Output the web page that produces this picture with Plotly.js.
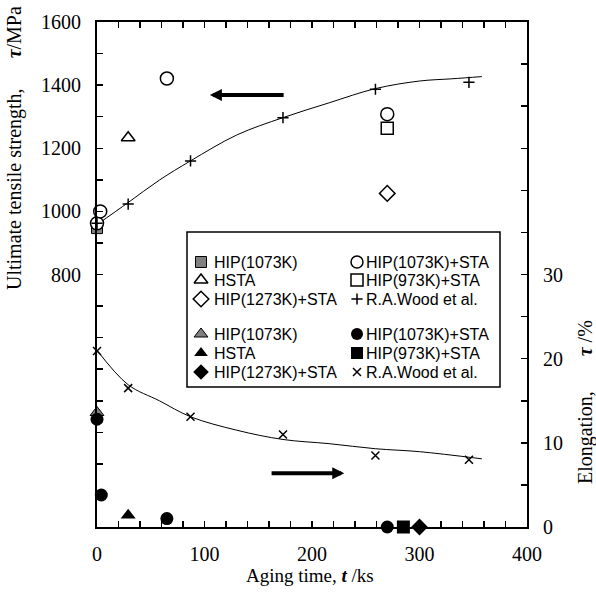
<!DOCTYPE html>
<html><head><meta charset="utf-8">
<script src="https://cdn.plot.ly/plotly-3.0.1.min.js"></script>
<style>html,body{margin:0;padding:0;background:#fff}#chart{width:596px;height:592px}</style>
</head><body><div id="chart"></div>
<script>
// ---- tick labels ----
const xTickVals = [0, 100, 200, 300, 400];
const xTickText = ['0', '100', '200', '300', '400'];
const yLeftTickVals = [800, 1000, 1200, 1400, 1600];
const yLeftTickText = ['800', '1000', '1200', '1400', '1600'];
const yRightTickVals = [0, 10, 20, 30];
const yRightTickText = ['0', '10', '20', '30'];

// ---- legend names ----
const legendNames = ['HIP(1073K)', 'HSTA', 'HIP(1273K)+STA', 'HIP(1073K)+STA', 'HIP(973K)+STA', 'R.A.Wood et al.'];

// ---- ultimate tensile strength (MPa) vs aging time (ks) ----
const sHip1073X = [0],   sHip1073Y = [947];
const sHstaX = [29],     sHstaY = [1233];
const sHip1273StaX = [270], sHip1273StaY = [1057];
const sHip1073StaX = [0, 3, 65, 270], sHip1073StaY = [962, 1000, 1421, 1308];
const sHip973StaX = [270], sHip973StaY = [1263];
const sWoodX = [0, 29, 87, 173, 259, 346], sWoodY = [962, 1023, 1160, 1297, 1387, 1409];
const sFitX = [0, 29, 58, 87, 130, 173, 216, 259, 300, 330, 358];
const sFitY = [958, 1028, 1099, 1160, 1242, 1297, 1344, 1389, 1413, 1420, 1427];

// ---- elongation (%) vs aging time (ks) ----
const eHip1073X = [0],   eHip1073Y = [13.6];
const eHstaX = [29],     eHstaY = [1.4];
const eHip1273StaX = [300], eHip1273StaY = [0];
const eHip1073StaX = [0, 4, 65, 270], eHip1073StaY = [12.8, 3.8, 1.0, 0];
const eHip973StaX = [285], eHip973StaY = [0];
const eWoodX = [0, 29, 87, 173, 259, 346], eWoodY = [20.9, 16.5, 13.1, 11.0, 8.5, 8.0];
const eFitX = [0, 29, 58, 87, 130, 173, 216, 259, 300, 358];
const eFitY = [21.0, 16.9, 15.0, 13.1, 11.5, 10.4, 9.9, 9.3, 8.95, 8.1];

const BLK = '#000', GRY = '#808080', WHT = '#fff';
const st = {
  sHip1073:    {symbol: 'square', size: 11, color: GRY, line: {color: BLK, width: 1}},
  sHsta:       {symbol: 'triangle-up', size: 12, color: WHT, line: {color: BLK, width: 1.5}},
  sHip1273Sta: {symbol: 'diamond', size: 12, color: WHT, line: {color: BLK, width: 1.5}},
  sHip1073Sta: {symbol: 'circle', size: 13, color: WHT, line: {color: BLK, width: 1.5}},
  sHip973Sta:  {symbol: 'square', size: 12, color: WHT, line: {color: BLK, width: 1.5}},
  sWood:       {symbol: 'cross-thin', size: 8, color: BLK, line: {color: BLK, width: 1.5}},
  eHip1073:    {symbol: 'triangle-up', size: 12, color: GRY, line: {color: BLK, width: 1}},
  eHsta:       {symbol: 'triangle-up', size: 13, color: BLK, line: {color: BLK, width: 0}},
  eHip1273Sta: {symbol: 'diamond', size: 13, color: BLK, line: {color: BLK, width: 0}},
  eHip1073Sta: {symbol: 'circle', size: 13, color: BLK, line: {color: BLK, width: 0}},
  eHip973Sta:  {symbol: 'square', size: 13, color: BLK, line: {color: BLK, width: 0}},
  eWood:       {symbol: 'x-thin', size: 8, color: BLK, line: {color: BLK, width: 1.5}}
};

function pts(x, y, marker, yaxis) {
  return {type: 'scatter', mode: 'markers', x: x, y: y, marker: marker, yaxis: yaxis,
          cliponaxis: false, showlegend: false, hoverinfo: 'x+y'};
}
function fit(x, y, yaxis) {
  return {type: 'scatter', mode: 'lines', x: x, y: y, yaxis: yaxis,
          line: {color: BLK, width: 1, shape: 'spline', smoothing: 1},
          showlegend: false, hoverinfo: 'skip'};
}

const traces = [
  fit(sFitX, sFitY, 'y'),
  pts(sHip1073X, sHip1073Y, st.sHip1073, 'y'),
  pts(sHstaX, sHstaY, st.sHsta, 'y'),
  pts(sHip1273StaX, sHip1273StaY, st.sHip1273Sta, 'y'),
  pts(sHip973StaX, sHip973StaY, st.sHip973Sta, 'y'),
  pts(sHip1073StaX, sHip1073StaY, st.sHip1073Sta, 'y'),
  pts(sWoodX, sWoodY, st.sWood, 'y'),
  fit(eFitX, eFitY, 'y2'),
  pts(eHip1073X, eHip1073Y, st.eHip1073, 'y2'),
  pts(eHstaX, eHstaY, st.eHsta, 'y2'),
  pts(eHip1273StaX, eHip1273StaY, st.eHip1273Sta, 'y2'),
  pts(eHip973StaX, eHip973StaY, st.eHip973Sta, 'y2'),
  pts(eHip1073StaX, eHip1073StaY, st.eHip1073Sta, 'y2'),
  pts(eWoodX, eWoodY, st.eWood, 'y2')
];

// ---- custom two-column legend (pixel-like overlay axes) ----
const legendStyles = [
  [st.sHip1073, st.sHsta, st.sHip1273Sta, st.sHip1073Sta, st.sHip973Sta, st.sWood],
  [st.eHip1073, st.eHsta, st.eHip1273Sta, st.eHip1073Sta, st.eHip973Sta, st.eWood]
];
const colMarkX = [201, 357], colTextX = [212, 364];
const groupRowY = [[262, 280, 299], [334, 353, 372]];
const annotations = [];
legendStyles.forEach((grp, g) => {
  grp.forEach((m, i) => {
    const c = Math.floor(i / 3), r = i % 3;
    const mm = Object.assign({}, m, {size: Math.min(m.size, 12)});
    traces.push({type: 'scatter', mode: 'markers', x: [colMarkX[c]], y: [groupRowY[g][r]],
                 xaxis: 'x3', yaxis: 'y3', marker: mm, showlegend: false, hoverinfo: 'skip', cliponaxis: false});
    annotations.push({xref: 'x3', yref: 'y3', x: colTextX[c], y: groupRowY[g][r], text: legendNames[i],
                      showarrow: false, xanchor: 'left', yanchor: 'middle',
                      font: {family: 'Liberation Sans, Arial, sans-serif', size: 16, color: BLK}});
  });
});

// ---- arrows ----
annotations.push({xref: 'x', yref: 'y', axref: 'x', ayref: 'y', x: 105, y: 1369, ax: 175, ay: 1369,
                  text: '', showarrow: true, arrowhead: 2, arrowsize: 0.6, arrowwidth: 4, arrowcolor: BLK});
annotations.push({xref: 'x', yref: 'y2', axref: 'x', ayref: 'y2', x: 230, y: 6.4, ax: 161, ay: 6.4,
                  text: '', showarrow: true, arrowhead: 2, arrowsize: 0.6, arrowwidth: 4, arrowcolor: BLK});

// ---- axis titles ----
const serif = 'Liberation Serif, Times New Roman, serif';
const NB = '\u00A0';
annotations.push({xref: 'paper', yref: 'paper', x: 0.495, y: -0.096, xanchor: 'center', yanchor: 'middle',
                  text: 'Aging time, <b><i>t</i></b> /ks', showarrow: false,
                  font: {family: serif, size: 19, color: BLK}});
annotations.push({xref: 'paper', yref: 'paper', x: -0.1907, y: 0.7505, xanchor: 'center', yanchor: 'middle',
                  textangle: -90, text: 'Ultimate tensile strength,' + NB.repeat(6) + '<b><i>τ</i></b>/MPa',
                  showarrow: false, font: {family: serif, size: 20, color: BLK}});
annotations.push({xref: 'paper', yref: 'paper', x: 1.135, y: 0.2475, xanchor: 'center', yanchor: 'middle',
                  textangle: -90, text: 'Elongation,' + NB.repeat(7) + '<b><i>τ</i></b> /%',
                  showarrow: false, font: {family: serif, size: 20, color: BLK}});

const tickFont = {family: serif, size: 20, color: BLK};
const common = {ticks: 'inside', ticklen: 6, tickwidth: 1.5, tickcolor: BLK, showline: true, linewidth: 2,
                linecolor: BLK, showgrid: false, zeroline: false, tickfont: tickFont, fixedrange: true,
                tickmode: 'array'};

const layout = {
  width: 596, height: 592,
  margin: {l: 97, r: 69, t: 22, b: 65},
  paper_bgcolor: WHT, plot_bgcolor: WHT,
  showlegend: false,
  xaxis: Object.assign({}, common, {range: [0, 400], tickvals: xTickVals, ticktext: xTickText, mirror: 'ticks',
          ticklabelstandoff: 8,
          minor: {tickmode: 'linear', tick0: 0, dtick: 20, ticks: 'inside', ticklen: 6, tickwidth: 1.5, tickcolor: BLK, showgrid: false}}),
  yaxis: Object.assign({}, common, {range: [0, 1600], tickvals: yLeftTickVals, ticktext: yLeftTickText,
          ticklabelstandoff: 10,
          minor: {tickmode: 'linear', tick0: 0, dtick: 100, ticks: 'inside', ticklen: 6, tickwidth: 1.5, tickcolor: BLK, showgrid: false}}),
  yaxis2: Object.assign({}, common, {range: [0, 60], overlaying: 'y', side: 'right', anchor: 'x',
          tickvals: yRightTickVals, ticktext: yRightTickText, ticklabelstandoff: 10,
          minor: {tickmode: 'linear', tick0: 0, dtick: 5, ticks: 'inside', ticklen: 6, tickwidth: 1.5, tickcolor: BLK, showgrid: false}}),
  xaxis3: {overlaying: 'x', range: [97, 527], visible: false, fixedrange: true, anchor: 'y3'},
  yaxis3: {overlaying: 'y', range: [527, 22], visible: false, fixedrange: true, anchor: 'x3'},
  shapes: [{type: 'rect', xref: 'x3', yref: 'y3', x0: 187, x1: 500, y0: 232, y1: 387,
            line: {color: BLK, width: 1.5}, fillcolor: WHT, layer: 'below'}],
  annotations: annotations
};

Plotly.newPlot('chart', traces, layout, {displayModeBar: false, staticPlot: true});
</script></body></html>
